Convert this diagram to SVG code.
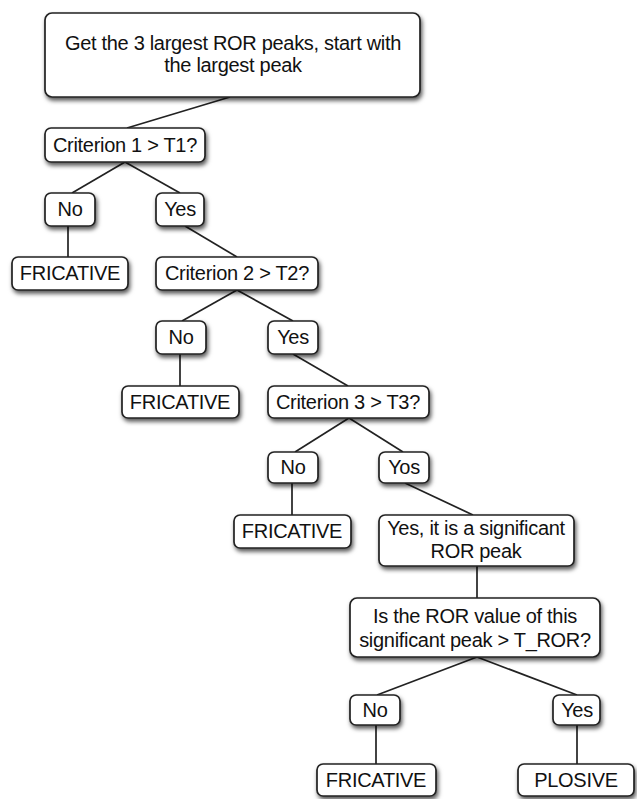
<svg xmlns="http://www.w3.org/2000/svg" width="637" height="799" viewBox="0 0 637 799">
<defs>
<filter id="sh" x="-20%" y="-30%" width="140%" height="170%">
<feDropShadow dx="1.5" dy="3" stdDeviation="2" flood-color="#000" flood-opacity="0.65"/>
</filter>
<style>
.b{fill:#fff;stroke:#222;stroke-width:1.7;filter:url(#sh)}
.t{font-family:"Liberation Sans",Arial,sans-serif;font-size:20px;letter-spacing:-0.3px;fill:#111;text-anchor:middle}
.c{stroke:#222;stroke-width:1.7;fill:none}
</style>
</defs>
<rect width="637" height="799" fill="#fff"/>
<g id="connectors">
<line class="c" x1="230" y1="97" x2="127" y2="128"/>
<line class="c" x1="125" y1="162" x2="72" y2="193"/>
<line class="c" x1="125" y1="162" x2="180" y2="193"/>
<line class="c" x1="68" y1="226" x2="68" y2="257"/>
<line class="c" x1="185" y1="226" x2="237" y2="257"/>
<line class="c" x1="237" y1="290" x2="182" y2="321"/>
<line class="c" x1="237" y1="290" x2="293" y2="321"/>
<line class="c" x1="180" y1="354" x2="180" y2="386"/>
<line class="c" x1="293" y1="354" x2="348" y2="386"/>
<line class="c" x1="349" y1="418" x2="295" y2="452"/>
<line class="c" x1="349" y1="418" x2="403" y2="452"/>
<line class="c" x1="292" y1="483" x2="292" y2="515"/>
<line class="c" x1="405" y1="483" x2="473" y2="515"/>
<line class="c" x1="477" y1="566" x2="477" y2="598"/>
<line class="c" x1="477" y1="657" x2="377" y2="695"/>
<line class="c" x1="477" y1="657" x2="577" y2="695"/>
<line class="c" x1="376" y1="725" x2="376" y2="764"/>
<line class="c" x1="577" y1="725" x2="577" y2="764"/>
</g>
<g id="start"><rect class="b" x="45" y="13" width="375" height="84" rx="7"/><text class="t" x="233" y="50">Get the 3 largest ROR peaks, start with</text><text class="t" x="233" y="72">the largest peak</text></g>
<g id="crit1"><rect class="b" x="45" y="128" width="160" height="34" rx="6"/><text class="t" x="125" y="152">Criterion 1 &gt; T1?</text></g>
<g id="no1"><rect class="b" x="45" y="193" width="50" height="33" rx="6"/><text class="t" x="70" y="216">No</text></g>
<g id="yes1"><rect class="b" x="156" y="193" width="48" height="33" rx="6"/><text class="t" x="180" y="216">Yes</text></g>
<g id="fric1"><rect class="b" x="12" y="257" width="116" height="33" rx="6"/><text class="t" x="70" y="280">FRICATIVE</text></g>
<g id="crit2"><rect class="b" x="156" y="257" width="162" height="33" rx="6"/><text class="t" x="237" y="280">Criterion 2 &gt; T2?</text></g>
<g id="no2"><rect class="b" x="156" y="321" width="50" height="33" rx="6"/><text class="t" x="181" y="344">No</text></g>
<g id="yes2"><rect class="b" x="268" y="321" width="50" height="33" rx="6"/><text class="t" x="293" y="344">Yes</text></g>
<g id="fric2"><rect class="b" x="122" y="386" width="117" height="32" rx="6"/><text class="t" x="180" y="409">FRICATIVE</text></g>
<g id="crit3"><rect class="b" x="268" y="386" width="161" height="32" rx="6"/><text class="t" x="348" y="409">Criterion 3 &gt; T3?</text></g>
<g id="no3"><rect class="b" x="268" y="452" width="50" height="31" rx="6"/><text class="t" x="293" y="474">No</text></g>
<g id="yes3"><rect class="b" x="379" y="452" width="50" height="31" rx="6"/><text class="t" x="404" y="474">Yos</text></g>
<g id="fric3"><rect class="b" x="234" y="515" width="117" height="33" rx="6"/><text class="t" x="292" y="538">FRICATIVE</text></g>
<g id="sig"><rect class="b" x="379" y="515" width="195" height="51" rx="6"/><text class="t" x="476" y="535">Yes, it is a significant</text><text class="t" x="476" y="558">ROR peak</text></g>
<g id="tror"><rect class="b" x="350" y="598" width="250" height="59" rx="7"/><text class="t" x="475" y="623">Is the ROR value of this</text><text class="t" x="475" y="647">significant peak &gt; T_ROR?</text></g>
<g id="no4"><rect class="b" x="350" y="695" width="50" height="30" rx="6"/><text class="t" x="375" y="717">No</text></g>
<g id="yes4"><rect class="b" x="553" y="695" width="47" height="30" rx="6"/><text class="t" x="577" y="717">Yes</text></g>
<g id="fric4"><rect class="b" x="317" y="764" width="119" height="32" rx="6"/><text class="t" x="376" y="787">FRICATIVE</text></g>
<g id="plosive"><rect class="b" x="518" y="764" width="116" height="32" rx="6"/><text class="t" x="576" y="787">PLOSIVE</text></g>
</svg>
